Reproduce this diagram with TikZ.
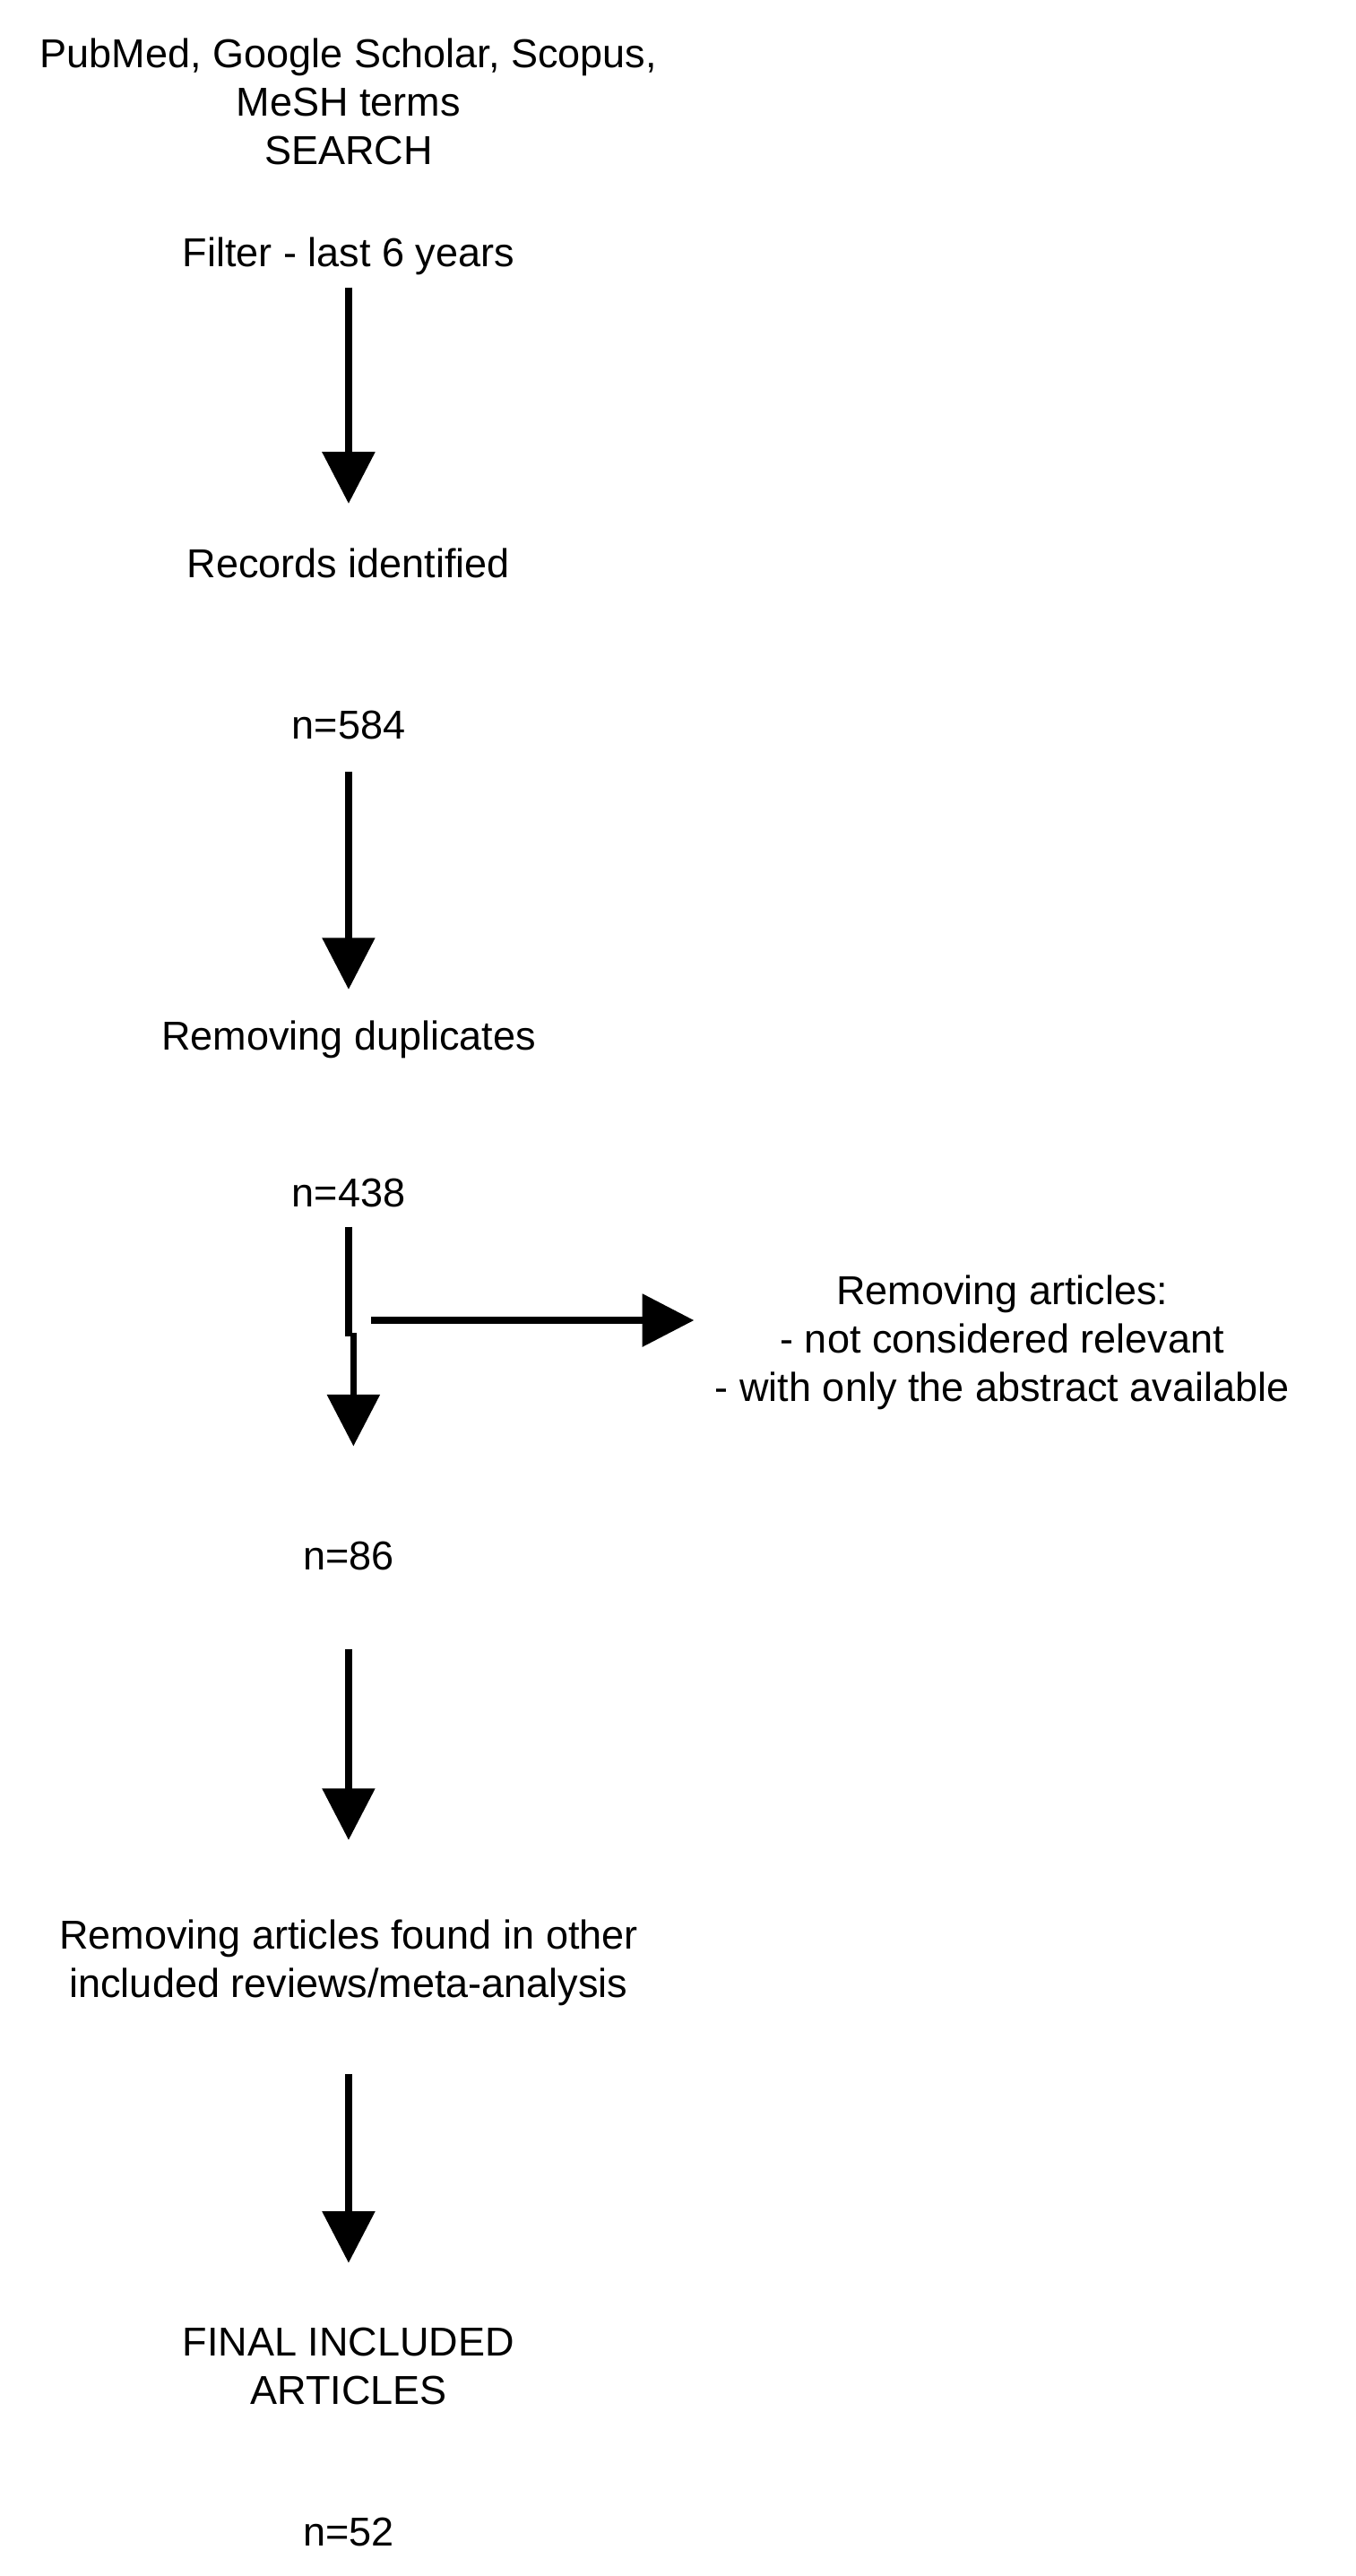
\documentclass[tikz,border=0pt]{standalone}
\usepackage{fontspec}
\setmainfont{Liberation Sans}
\usetikzlibrary{arrows.meta}
\begin{document}
\begin{tikzpicture}[x=1pt,y=1pt,
  t/.style={align=center,font=\fontsize{25}{30}\selectfont,inner sep=0pt},
  ar/.style={line width=4pt,-{Triangle[width=32pt,length=32pt]}},
  ln/.style={line width=4pt}]
\useasboundingbox[fill=white] (0,0) rectangle (840,-1596);
\node[t] (s) at (216,-63) {PubMed, Google Scholar, Scopus,\\MeSH terms\\SEARCH};
\node[t] (f) at (216,-159) {Filter - last 6 years};
\node[t] (r) at (216,-349) {Records identified};
\node[t] (n1) at (216,-449) {n=584};
\node[t] (d) at (216,-644) {Removing duplicates};
\node[t] (n2) at (216,-739) {n=438};
\node[t] (ra) at (621,-832) {Removing articles:\\- not considered relevant\\- with only the abstract available};
\node[t] (n3) at (216,-964) {n=86};
\node[t] (o) at (216,-1216) {Removing articles found in other\\included reviews/meta-analysis};
\node[t] (fi) at (216,-1466) {FINAL INCLUDED\\ARTICLES};
\node[t] (n4) at (216,-1569) {n=52};
\coordinate (a1) at (216,-178); \coordinate (a2) at (216,-312);
\coordinate (b1) at (216,-478); \coordinate (b2) at (216,-613);
\coordinate (c1) at (216,-760); \coordinate (c2) at (216,-828);
\coordinate (c3) at (219,-826); \coordinate (c4) at (219,-896);
\coordinate (h1) at (230,-818); \coordinate (h2) at (430,-818);
\coordinate (e1) at (216,-1022); \coordinate (e2) at (216,-1140);
\coordinate (g1) at (216,-1285); \coordinate (g2) at (216,-1402);
\draw[ar] (a1) -- (a2);
\draw[ar] (b1) -- (b2);
\draw[ln] (c1) -- (c2);
\draw[ar] (c3) -- (c4);
\draw[ar] (h1) -- (h2);
\draw[ar] (e1) -- (e2);
\draw[ar] (g1) -- (g2);
\end{tikzpicture}
\end{document}
